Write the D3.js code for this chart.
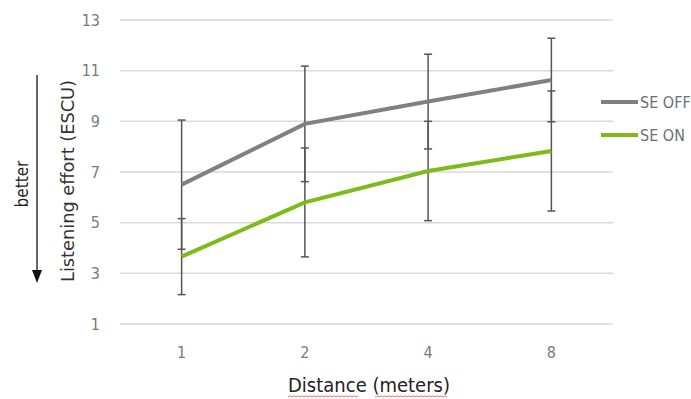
<!DOCTYPE html>
<meta charset="utf-8">
<style>
body { margin: 0; background: #fff; }
text { font-family: "DejaVu Sans Condensed", "Open Sans", sans-serif; }
.grid line { stroke: #d9d9d9; stroke-width: 1.5px; }
.tick-label { fill: #7a7a7a; font-size: 16px; }
</style>
<body>
<svg width="691" height="399"></svg>
<script src="https://d3js.org/d3.v7.min.js"></script>
<script>

var distances = ["1", "2", "4", "8"];
var seOff = [6.5, 8.9, 9.78, 10.63];
var seOffErr = [2.55, 2.28, 1.87, 1.65];
var seOn = [3.66, 5.8, 7.04, 7.83];
var seOnErr = [1.5, 2.15, 1.96, 2.37];
var yTicks = [1, 3, 5, 7, 9, 11, 13];

var series = [
  {name: "SE OFF", values: seOff, err: seOffErr, color: "#808080"},
  {name: "SE ON", values: seOn, err: seOnErr, color: "#7dbb1a"}
];

var svg = d3.select("svg");

var x = d3.scalePoint()
    .domain(distances)
    .range([120, 613])
    .padding(0.5);

var y = d3.scaleLinear()
    .domain([1, 13])
    .range([324, 20]);

// gridlines
svg.append("g")
    .attr("class", "grid")
  .selectAll("line")
  .data(yTicks)
  .enter().append("line")
    .attr("x1", 120)
    .attr("x2", 613)
    .attr("y1", function(d) { return y(d); })
    .attr("y2", function(d) { return y(d); });

// y labels
svg.append("g")
  .selectAll("text")
  .data(yTicks)
  .enter().append("text")
    .attr("class", "tick-label")
    .attr("x", 100)
    .attr("y", function(d) { return y(d); })
    .attr("dy", "0.35em")
    .attr("text-anchor", "end")
    .text(function(d) { return d; });

// x labels
svg.append("g")
  .selectAll("text")
  .data(distances)
  .enter().append("text")
    .attr("class", "tick-label")
    .attr("x", function(d) { return x(d); })
    .attr("y", 358)
    .attr("text-anchor", "middle")
    .text(function(d) { return d; });

var line = d3.line()
    .x(function(d, i) { return x(distances[i]); })
    .y(function(d) { return y(d); });

// error bars
var bars = svg.append("g")
    .attr("stroke", "#555")
    .attr("stroke-width", 1.5);

series.forEach(function(s) {
  s.values.forEach(function(v, i) {
    var cx = x(distances[i]);
    var lo = y(v - s.err[i]), hi = y(v + s.err[i]);
    bars.append("line").attr("x1", cx).attr("x2", cx).attr("y1", lo).attr("y2", hi);
    bars.append("line").attr("x1", cx - 4).attr("x2", cx + 4).attr("y1", lo).attr("y2", lo);
    bars.append("line").attr("x1", cx - 4).attr("x2", cx + 4).attr("y1", hi).attr("y2", hi);
  });
});

// lines
svg.append("g")
  .selectAll("path")
  .data(series)
  .enter().append("path")
    .attr("fill", "none")
    .attr("stroke", function(d) { return d.color; })
    .attr("stroke-width", 4)
    .attr("d", function(d) { return line(d.values); });

// legend
var legend = svg.append("g")
  .selectAll("g")
  .data(series)
  .enter().append("g")
    .attr("transform", function(d, i) { return "translate(601," + (102 + i * 33) + ")"; });

legend.append("line")
    .attr("x1", 0)
    .attr("x2", 37)
    .attr("stroke", function(d) { return d.color; })
    .attr("stroke-width", 4);

legend.append("text")
    .attr("x", 39)
    .attr("dy", "0.35em")
    .attr("fill", "#6f6f6f")
    .style("font-size", "16px")
    .text(function(d) { return d.name; });

// y title
svg.append("text")
    .attr("transform", "translate(74,181) rotate(-90)")
    .attr("text-anchor", "middle")
    .attr("fill", "#333")
    .attr("textLength", 202)
    .attr("lengthAdjust", "spacingAndGlyphs")
    .style("font-size", "18px")
    .text("Listening effort (ESCU)");

svg.append("text")
    .attr("transform", "translate(28,184) rotate(-90)")
    .attr("text-anchor", "middle")
    .attr("fill", "#222")
    .style("font-size", "17px")
    .text("better");

// arrow
svg.append("line")
    .attr("x1", 37).attr("x2", 37)
    .attr("y1", 75).attr("y2", 272)
    .attr("stroke", "#333")
    .attr("stroke-width", 1.5);
svg.append("path")
    .attr("d", "M32,270 L42,270 L37,283 Z")
    .attr("fill", "#111");

// x title
svg.append("text")
    .attr("x", 369)
    .attr("y", 392)
    .attr("text-anchor", "middle")
    .attr("fill", "#222")
    .attr("textLength", 162)
    .attr("lengthAdjust", "spacingAndGlyphs")
    .style("font-size", "20px")
    .text("Distance (meters)");

// spell-check squiggles
function squiggle(x0, x1, yy) {
  var p = "M" + x0 + "," + yy;
  for (var k = x0, up = true; k < x1; k += 2, up = !up) {
    p += " L" + (k + 2) + "," + (yy + (up ? -1.2 : 0));
  }
  return p;
}
svg.append("path")
    .attr("d", squiggle(288, 358, 397) + " " + squiggle(375, 446, 397))
    .attr("fill", "none")
    .attr("stroke", "#e05050")
    .attr("stroke-width", 0.8);

</script>
</body>
